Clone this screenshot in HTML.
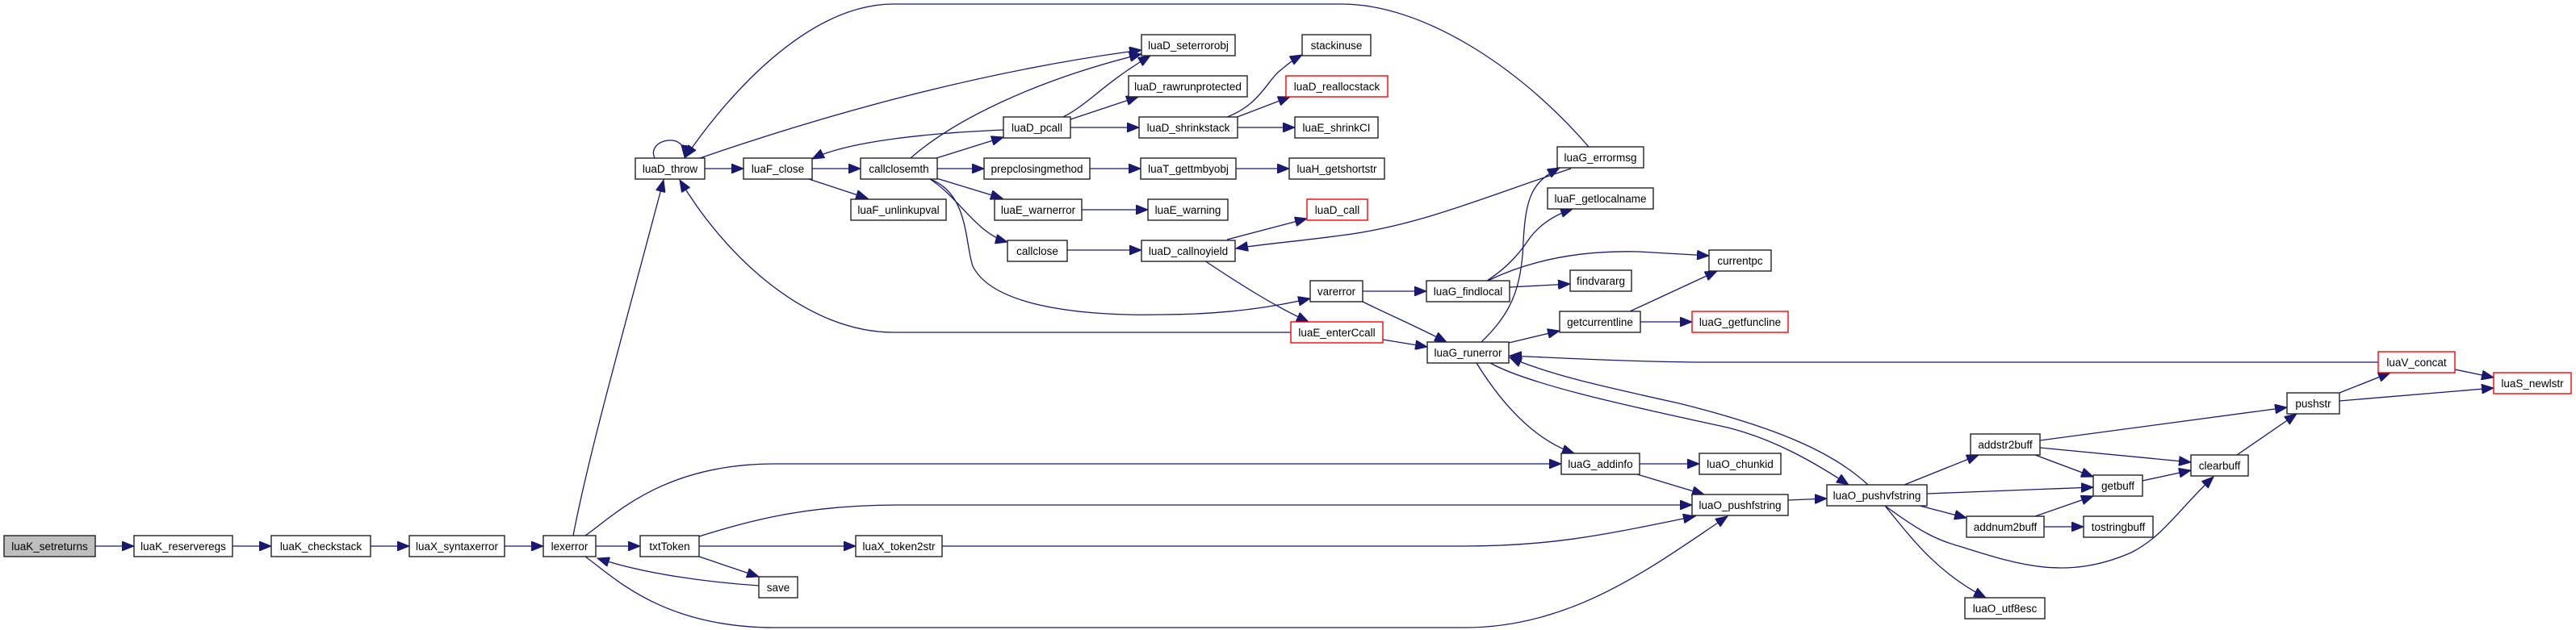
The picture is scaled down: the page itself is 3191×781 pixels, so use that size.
<!DOCTYPE html>
<html><head><meta charset="utf-8"><style>
html,body{margin:0;padding:0;background:#fff;}
svg{display:block;}
text{font-family:"Liberation Sans",Arial,sans-serif;font-size:13.5px;fill:#000;text-anchor:middle;}
.n{fill:#fff;stroke:#222;stroke-width:1.4;}
.r{fill:#fff;stroke:#ff0000;stroke-width:1.4;}
.g{fill:#bfbfbf;stroke:#222;stroke-width:1.4;}
path{fill:none;stroke:#191970;stroke-width:1.3;marker-end:url(#a);}
</style></head><body>
<svg width="3191" height="781" viewBox="0 0 3191 781" xmlns="http://www.w3.org/2000/svg">
<defs><marker id="a" markerUnits="userSpaceOnUse" markerWidth="16" markerHeight="12" refX="15" refY="6" orient="auto"><polygon points="0,0 15,6 0,12" fill="#191970" stroke="#191970"/></marker></defs>
<!-- edges -->
<path d="M118,677 L166,677"/>
<path d="M288,677 L336,677"/>
<path d="M459,677 L507,677"/>
<path d="M625,677 L673,677"/>
<path d="M710,664 C730,560 770,420 822,223"/>
<path d="M738,677 L793,677"/>
<path d="M725,664 C760,640 820,575 960,575 L1934,575"/>
<path d="M725,690 C760,715 820,778 960,778 L1815,778 C1950,778 2050,700 2140,640"/>
<path d="M940,726 C880,722 800,712 740,692"/>
<path d="M866,690 L940,715"/>
<path d="M866,677 L1060,677"/>
<path d="M866,665 C930,645 1000,626 1112,626 L2096,626"/>
<path d="M1167,677 L1815,677 C1930,677 2000,660 2100,640"/>
<path d="M811,196 C800,172 852,162 848,195"/>
<path d="M873,209 L921,209"/>
<path d="M1006,209 L1066,209"/>
<path d="M1002,222 L1075,246"/>
<path d="M1160,196 L1243,170"/>
<path d="M1161,209 L1219,209"/>
<path d="M1160,221 L1242,246"/>
<path d="M1152,222 C1188,245 1210,290 1248,300"/>
<path d="M1128,196 C1180,150 1280,100 1414,67"/>
<path d="M1152,222 C1200,240 1195,300 1205,330 C1230,380 1340,392 1440,390 C1520,390 1580,380 1623,370"/>
<path d="M1243,161 C1150,165 1050,175 1006,197"/>
<path d="M1317,145 C1350,128 1365,105 1425,69"/>
<path d="M1326,148 L1410,120"/>
<path d="M1326,158 L1411,158"/>
<path d="M867,196 C1000,150 1200,90 1414,62"/>
<path d="M1968,182 C1880,80 1760,5 1662,5 L1107,5 C1000,5 900,120 849,195"/>
<path d="M1599,412 L1107,412 C1000,412 900,320 842,223"/>
<path d="M1520,145 C1560,130 1570,100 1585,88 C1595,80 1600,75 1613,68"/>
<path d="M1530,146 L1598,120"/>
<path d="M1533,158 L1604,158"/>
<path d="M1531,209 L1597,209"/>
<path d="M1350,209 L1413,209"/>
<path d="M1340,260 L1422,260"/>
<path d="M1322,310 L1414,310"/>
<path d="M1520,297 L1619,271"/>
<path d="M1492,323 C1540,355 1580,380 1621,399"/>
<path d="M1946,209 C1850,240 1760,280 1660,292 C1600,300 1560,303 1531,308"/>
<path d="M1688,361 L1767,361"/>
<path d="M1688,374 C1720,390 1745,400 1792,424"/>
<path d="M1713,421 L1768,430"/>
<path d="M1842,348 C1870,330 1885,310 1895,295 C1910,275 1930,265 1948,259"/>
<path d="M1843,348 C1890,325 1950,310 2030,312 L2117,317"/>
<path d="M1870,356 L1945,352"/>
<path d="M1835,424 C1870,390 1885,360 1887,300 C1890,240 1900,225 1932,208"/>
<path d="M1869,425 L1932,410"/>
<path d="M2019,386 L2127,336"/>
<path d="M2032,399 L2096,399"/>
<path d="M1829,450 C1860,500 1900,545 1950,562"/>
<path d="M1846,450 C1900,480 2050,510 2140,530 C2200,545 2250,575 2290,601"/>
<path d="M2314,601 C2270,560 2200,530 2080,500 C1990,480 1920,465 1870,443"/>
<path d="M2946,449 L2100,449 C2000,448 1920,443 1870,441"/>
<path d="M2031,575 L2105,575"/>
<path d="M2028,588 L2111,613"/>
<path d="M2215,620 L2263,618"/>
<path d="M2359,601 L2451,564"/>
<path d="M2387,612 L2593,604"/>
<path d="M2378,627 L2436,642"/>
<path d="M2335,627 C2380,660 2400,670 2430,678 C2500,700 2560,720 2640,685 C2680,665 2700,630 2742,591"/>
<path d="M2335,627 C2370,670 2400,710 2460,741"/>
<path d="M2527,546 L2833,505"/>
<path d="M2527,555 L2714,573"/>
<path d="M2521,564 L2593,591"/>
<path d="M2521,640 L2593,615"/>
<path d="M2532,653 L2581,653"/>
<path d="M2654,596 L2714,583"/>
<path d="M2771,564 L2845,513"/>
<path d="M2898,487 L2961,462"/>
<path d="M2898,497 L3089,481"/>
<path d="M3041,458 L3089,468"/>
<!-- nodes -->
<g>
<rect class="g" x="5" y="664" width="113" height="26"/><text x="61.5" y="682">luaK_setreturns</text>
<rect class="n" x="166" y="664" width="122" height="26"/><text x="227" y="682">luaK_reserveregs</text>
<rect class="n" x="336" y="664" width="123" height="26"/><text x="397.5" y="682">luaK_checkstack</text>
<rect class="n" x="507" y="664" width="118" height="26"/><text x="566" y="682">luaX_syntaxerror</text>
<rect class="n" x="673" y="664" width="65" height="26"/><text x="705.5" y="682">lexerror</text>
<rect class="n" x="787" y="196" width="86" height="26"/><text x="830" y="214">luaD_throw</text>
<rect class="n" x="921" y="196" width="85" height="26"/><text x="963.5" y="214">luaF_close</text>
<rect class="n" x="1066" y="196" width="95" height="26"/><text x="1113.5" y="214">callclosemth</text>
<rect class="n" x="1054" y="247" width="118" height="26"/><text x="1113" y="265">luaF_unlinkupval</text>
<rect class="n" x="1243" y="145" width="83" height="26"/><text x="1284.5" y="163">luaD_pcall</text>
<rect class="n" x="1219" y="196" width="131" height="26"/><text x="1284.5" y="214">prepclosingmethod</text>
<rect class="n" x="1232" y="247" width="108" height="26"/><text x="1286" y="265">luaE_warnerror</text>
<rect class="n" x="1248" y="298" width="74" height="26"/><text x="1285" y="316">callclose</text>
<rect class="n" x="1414" y="43" width="116" height="26"/><text x="1472" y="61">luaD_seterrorobj</text>
<rect class="n" x="1398" y="94" width="147" height="26"/><text x="1471.5" y="112">luaD_rawrunprotected</text>
<rect class="n" x="1411" y="145" width="122" height="26"/><text x="1472" y="163">luaD_shrinkstack</text>
<rect class="n" x="1413" y="196" width="118" height="26"/><text x="1472" y="214">luaT_gettmbyobj</text>
<rect class="n" x="1422" y="247" width="99" height="26"/><text x="1471.5" y="265">luaE_warning</text>
<rect class="n" x="1414" y="298" width="116" height="26"/><text x="1472" y="316">luaD_callnoyield</text>
<rect class="n" x="793" y="664" width="73" height="26"/><text x="829.5" y="682">txtToken</text>
<rect class="n" x="1060" y="664" width="107" height="26"/><text x="1113.5" y="682">luaX_token2str</text>
<rect class="n" x="940" y="715" width="48" height="26"/><text x="964" y="733">save</text>
<rect class="n" x="1613" y="43" width="85" height="26"/><text x="1655.5" y="61">stackinuse</text>
<rect class="r" x="1593" y="94" width="126" height="26"/><text x="1656" y="112">luaD_reallocstack</text>
<rect class="n" x="1604" y="145" width="103" height="26"/><text x="1655.5" y="163">luaE_shrinkCI</text>
<rect class="n" x="1597" y="196" width="118" height="26"/><text x="1656" y="214">luaH_getshortstr</text>
<rect class="r" x="1619" y="247" width="75" height="26"/><text x="1656.5" y="265">luaD_call</text>
<rect class="n" x="1929" y="182" width="107" height="26"/><text x="1982.5" y="200">luaG_errormsg</text>
<rect class="n" x="1917" y="233" width="131" height="26"/><text x="1982.5" y="251">luaF_getlocalname</text>
<rect class="n" x="2117" y="310" width="77" height="26"/><text x="2155.5" y="328">currentpc</text>
<rect class="n" x="1945" y="335" width="76" height="26"/><text x="1983" y="353">findvararg</text>
<rect class="n" x="1623" y="348" width="65" height="26"/><text x="1655.5" y="366">varerror</text>
<rect class="n" x="1767" y="348" width="103" height="26"/><text x="1818.5" y="366">luaG_findlocal</text>
<rect class="n" x="1932" y="386" width="100" height="26"/><text x="1982" y="404">getcurrentline</text>
<rect class="r" x="2096" y="386" width="119" height="26"/><text x="2155.5" y="404">luaG_getfuncline</text>
<rect class="r" x="1599" y="399" width="114" height="26"/><text x="1656" y="417">luaE_enterCcall</text>
<rect class="n" x="1768" y="424" width="101" height="26"/><text x="1818.5" y="442">luaG_runerror</text>
<rect class="n" x="1934" y="562" width="97" height="26"/><text x="1982.5" y="580">luaG_addinfo</text>
<rect class="n" x="2105" y="562" width="101" height="26"/><text x="2155.5" y="580">luaO_chunkid</text>
<rect class="n" x="2096" y="613" width="119" height="26"/><text x="2155.5" y="631">luaO_pushfstring</text>
<rect class="n" x="2263" y="601" width="124" height="26"/><text x="2325" y="619">luaO_pushvfstring</text>
<rect class="n" x="2441" y="538" width="86" height="26"/><text x="2484" y="556">addstr2buff</text>
<rect class="n" x="2593" y="589" width="61" height="26"/><text x="2623.5" y="607">getbuff</text>
<rect class="n" x="2436" y="640" width="96" height="26"/><text x="2484" y="658">addnum2buff</text>
<rect class="n" x="2581" y="640" width="86" height="26"/><text x="2624" y="658">tostringbuff</text>
<rect class="n" x="2434" y="741" width="99" height="26"/><text x="2483.5" y="759">luaO_utf8esc</text>
<rect class="n" x="2714" y="564" width="71" height="26"/><text x="2749.5" y="582">clearbuff</text>
<rect class="n" x="2833" y="487" width="65" height="26"/><text x="2865.5" y="505">pushstr</text>
<rect class="r" x="2946" y="436" width="95" height="26"/><text x="2993.5" y="454">luaV_concat</text>
<rect class="r" x="3089" y="462" width="96" height="26"/><text x="3137" y="480">luaS_newlstr</text>
</g>
</svg>
</body></html>
